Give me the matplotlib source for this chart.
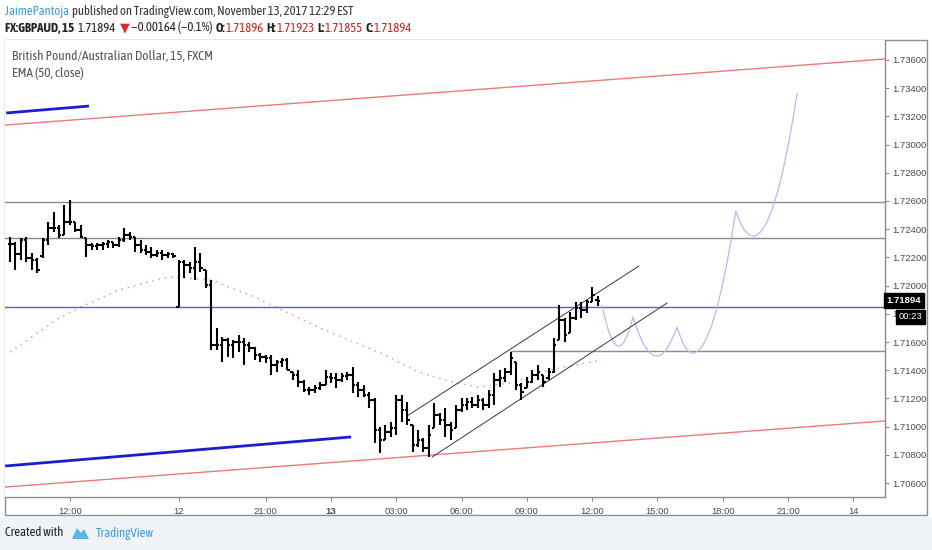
import matplotlib
matplotlib.use("Agg")
import matplotlib.pyplot as plt
import matplotlib.transforms as mtransforms
from matplotlib.path import Path
from matplotlib.patches import PathPatch, Rectangle, Polygon

TEXT_FONT = ['Asap Condensed', 'Lato', 'DejaVu Sans']
AXIS_FONT = ['Liberation Sans', 'DejaVu Sans']
plt.rcParams['font.family'] = TEXT_FONT

W, H = 932, 550

# GBPAUD 15 min bars, bar index 0 = Nov 13 00:00 (first bar = index -59)
first_bar = -59
opens = [
    1.72295, 1.72295, 1.72224, 1.72323, 1.72195, 1.72181, 1.72209, 1.72323, 1.72408, 1.72408,
    1.72359, 1.72451, 1.72451, 1.72394, 1.72337, 1.72288, 1.72280, 1.72288, 1.72295, 1.72309,
    1.72288, 1.72323, 1.72359, 1.72344, 1.72288, 1.72252, 1.72238, 1.72217, 1.72231, 1.72217,
    1.72224, 1.71848, 1.72167, 1.72146, 1.72124, 1.72167, 1.72110, 1.72004, 1.71579, 1.71579,
    1.71614, 1.71579, 1.71600, 1.71600, 1.71579, 1.71557, 1.71508, 1.71493, 1.71486, 1.71437,
    1.71459, 1.71473, 1.71388, 1.71366, 1.71317, 1.71260, 1.71260, 1.71274, 1.71295, 1.71352,
    1.71345, 1.71331, 1.71359, 1.71366, 1.71295, 1.71260, 1.71224, 1.71189, 1.70976, 1.70905,
    1.70962, 1.70990, 1.71189, 1.71118, 1.71011, 1.70869, 1.70905, 1.70848, 1.70990, 1.71082,
    1.71047, 1.71011, 1.70990, 1.71118, 1.71153, 1.71175, 1.71153, 1.71189, 1.71153, 1.71224,
    1.71331, 1.71345, 1.71388, 1.71459, 1.71295, 1.71274, 1.71317, 1.71366, 1.71366, 1.71345,
    1.71388, 1.71614, 1.71756, 1.71664, 1.71770, 1.71841, 1.71827, 1.71884, 1.71896,
]
highs = [
    1.72344, 1.72309, 1.72337, 1.72344, 1.72231, 1.72195, 1.72337, 1.72451, 1.72522, 1.72430,
    1.72572, 1.72607, 1.72451, 1.72430, 1.72337, 1.72302, 1.72302, 1.72309, 1.72323, 1.72309,
    1.72344, 1.72408, 1.72380, 1.72344, 1.72323, 1.72288, 1.72273, 1.72252, 1.72252, 1.72238,
    1.72231, 1.72181, 1.72181, 1.72167, 1.72273, 1.72231, 1.72110, 1.72040, 1.71699, 1.71636,
    1.71628, 1.71614, 1.71650, 1.71628, 1.71600, 1.71564, 1.71522, 1.71508, 1.71508, 1.71473,
    1.71486, 1.71486, 1.71388, 1.71402, 1.71331, 1.71281, 1.71295, 1.71317, 1.71402, 1.71381,
    1.71381, 1.71381, 1.71388, 1.71423, 1.71317, 1.71295, 1.71246, 1.71203, 1.70997, 1.71011,
    1.71033, 1.71224, 1.71224, 1.71175, 1.71011, 1.70976, 1.70919, 1.71011, 1.71168, 1.71097,
    1.71132, 1.71033, 1.71153, 1.71203, 1.71203, 1.71210, 1.71224, 1.71203, 1.71260, 1.71381,
    1.71402, 1.71416, 1.71529, 1.71459, 1.71310, 1.71352, 1.71402, 1.71437, 1.71366, 1.71416,
    1.71628, 1.71863, 1.71770, 1.71813, 1.71884, 1.71884, 1.71898, 1.71990, 1.71923,
]
lows = [
    1.72167, 1.72110, 1.72181, 1.72167, 1.72110, 1.72089, 1.72195, 1.72288, 1.72380, 1.72337,
    1.72359, 1.72430, 1.72380, 1.72337, 1.72202, 1.72252, 1.72252, 1.72252, 1.72266, 1.72266,
    1.72273, 1.72309, 1.72323, 1.72238, 1.72231, 1.72217, 1.72195, 1.72202, 1.72181, 1.72195,
    1.72195, 1.71848, 1.72053, 1.72089, 1.72040, 1.72096, 1.71983, 1.71543, 1.71543, 1.71459,
    1.71493, 1.71486, 1.71529, 1.71437, 1.71529, 1.71473, 1.71459, 1.71452, 1.71366, 1.71388,
    1.71423, 1.71402, 1.71331, 1.71281, 1.71246, 1.71224, 1.71239, 1.71260, 1.71295, 1.71310,
    1.71274, 1.71317, 1.71331, 1.71239, 1.71210, 1.71210, 1.71132, 1.70884, 1.70813, 1.70905,
    1.70927, 1.70941, 1.71033, 1.71011, 1.70820, 1.70855, 1.70820, 1.70785, 1.70990, 1.71011,
    1.70927, 1.70905, 1.70990, 1.71104, 1.71118, 1.71132, 1.71132, 1.71118, 1.71132, 1.71153,
    1.71281, 1.71317, 1.71366, 1.71260, 1.71189, 1.71274, 1.71310, 1.71331, 1.71281, 1.71331,
    1.71381, 1.71614, 1.71600, 1.71664, 1.71756, 1.71770, 1.71806, 1.71884, 1.71855,
]
closes = [
    1.72295, 1.72224, 1.72323, 1.72195, 1.72181, 1.72110, 1.72323, 1.72408, 1.72408, 1.72359,
    1.72451, 1.72451, 1.72394, 1.72344, 1.72288, 1.72280, 1.72288, 1.72295, 1.72309, 1.72288,
    1.72323, 1.72359, 1.72344, 1.72288, 1.72252, 1.72238, 1.72217, 1.72231, 1.72217, 1.72224,
    1.72209, 1.72167, 1.72146, 1.72124, 1.72167, 1.72124, 1.72004, 1.71579, 1.71579, 1.71614,
    1.71579, 1.71600, 1.71600, 1.71579, 1.71557, 1.71508, 1.71493, 1.71486, 1.71437, 1.71459,
    1.71473, 1.71402, 1.71366, 1.71317, 1.71260, 1.71260, 1.71274, 1.71295, 1.71352, 1.71345,
    1.71331, 1.71359, 1.71366, 1.71295, 1.71260, 1.71224, 1.71189, 1.70976, 1.70905, 1.70962,
    1.70990, 1.71189, 1.71118, 1.71047, 1.70869, 1.70905, 1.70848, 1.70941, 1.71082, 1.71047,
    1.71011, 1.70976, 1.71118, 1.71153, 1.71175, 1.71153, 1.71189, 1.71153, 1.71224, 1.71331,
    1.71345, 1.71388, 1.71486, 1.71295, 1.71246, 1.71317, 1.71366, 1.71388, 1.71317, 1.71388,
    1.71579, 1.71756, 1.71650, 1.71770, 1.71841, 1.71827, 1.71884, 1.71934, 1.71894,
]

# EMA(50, close) read at some bars
ema_x = [-59, -50, -46, -39, -30, -22, -14, -9, -2, 10, 16, 23, 27, 33, 40, 49]
ema_y = [1.71529, 1.71770, 1.71848, 1.71969, 1.72061, 1.72040, 1.71919, 1.71827,
         1.71699, 1.71508, 1.71388, 1.71310, 1.71281, 1.71310, 1.71402, 1.71466]

# drawings
red_upper = [(-59.7, 1.73139), (101.8, 1.73607)]
red_lower = [(-59.9, 1.70572), (101.7, 1.71040)]
blue_upper = [(-59.7, 1.73224), (-44.5, 1.73273)]
blue_lower = [(-59.9, 1.70721), (3.7, 1.70927)]
chan_upper = [(14.0, 1.71076), (56.6, 1.72139)]
chan_lower = [(18.6, 1.70785), (61.8, 1.71877)]
gray_levels = [1.72593, 1.72338]
gray_short = (33, 1.71538)
blue_level = 1.71845
# projected path: cusp, bottom, cusp, bottom ...
proj_x = [49.8, 52.9, 55.5, 59.9, 63.6, 66.5, 74.4, 77.6, 85.7]
proj_y = [1.71863, 1.71572, 1.71779, 1.71501, 1.71707, 1.71522, 1.72529, 1.72352, 1.73366]

last_price = 1.71894
countdown = '00:23'

time_ticks = [-48, -28, -12, 0, 12, 24, 36, 48, 60, 72, 84, 96]
time_labels = ['12:00', '12', '21:00', '13', '03:00', '06:00', '09:00', '12:00',
               '15:00', '18:00', '21:00', '14']
price_ticks = [1.706, 1.708, 1.710, 1.712, 1.714, 1.716, 1.718, 1.720, 1.722,
               1.724, 1.726, 1.728, 1.730, 1.732, 1.734, 1.736]
# the 1.71800 label sits under the countdown box, only its first digit shows
price_labels = ['1.70600', '1.70800', '1.71000', '1.71200', '1.71400', '1.71600', '1',
                '1.72000', '1.72200', '1.72400', '1.72600', '1.72800', '1.73000',
                '1.73200', '1.73400', '1.73600']


def fx(px):
    return px / W


def fy(py):
    return 1 - py / H


fig = plt.figure(figsize=(W / 100, H / 100), dpi=100)
fig.patch.set_facecolor('white')
fig.patches.append(Rectangle((0, 0), 1, fy(517), transform=fig.transFigure,
                             facecolor='#eff3f7', edgecolor='none', zorder=-3))
fig.patches.append(Rectangle((fx(5), fy(515)), (927 - 5) / W, (515 - 40) / H,
                             transform=fig.transFigure, facecolor='white',
                             edgecolor='#8c8c8c', lw=1, zorder=-2))

ax = fig.add_axes([fx(5), fy(497), (885 - 5) / W, (497 - 40) / H])
ax.set_zorder(1)
ax.set_xlim(-59.93, 101.84)
ax.set_ylim(1.705013, 1.737414)
ax.set_facecolor('white')

# bars
xs = list(range(first_bar, first_bar + len(opens)))
tick = 0.45
ax.vlines(xs, lows, highs, color='black', lw=1.5, zorder=5)
ax.hlines(opens, [x - tick for x in xs], xs, color='black', lw=1.5, zorder=5)
ax.hlines(closes, xs, [x + tick for x in xs], color='black', lw=1.5, zorder=5)

# EMA
ax.plot(ema_x, ema_y, color='#f09a9a', lw=1.1, ls=(0, (1, 3.2)), zorder=2)

# drawings
ax.axline(*red_upper, color='#f07878', lw=1.0, zorder=3)
ax.axline(*red_lower, color='#f07878', lw=1.0, zorder=3)
for seg in (blue_upper, blue_lower):
    ax.plot([p[0] for p in seg], [p[1] for p in seg], color='#1c1cd0', lw=2.0,
            solid_capstyle='butt', zorder=4)
for seg in (chan_upper, chan_lower):
    ax.plot([p[0] for p in seg], [p[1] for p in seg], color='#3a3a3a', lw=0.7, zorder=4)
for lvl in gray_levels:
    ax.axhline(lvl, color='#8a8a8a', lw=1.0, zorder=3)
ax.plot([gray_short[0], 200], [gray_short[1], gray_short[1]], color='#8a8a8a', lw=1.0, zorder=3)
ax.axhline(blue_level, color='#5a5ad8', lw=1.0, zorder=3)

# projection curve: parabolic arcs with flat bottoms and sharp tops
verts = [(proj_x[0], proj_y[0])]
codes = [Path.MOVETO]
for i in range(1, len(proj_x)):
    x0, y0 = proj_x[i - 1], proj_y[i - 1]
    x1, y1 = proj_x[i], proj_y[i]
    flat_y = y1 if i % 2 == 1 else y0
    verts += [((x0 + x1) / 2, flat_y), (x1, y1)]
    codes += [Path.CURVE3, Path.CURVE3]
ax.add_patch(PathPatch(Path(verts, codes), fill=False, ec='#b8b8ee', lw=0.9, zorder=3))

# axes styling
for side in ('left', 'top'):
    ax.spines[side].set_visible(False)
for side in ('right', 'bottom'):
    ax.spines[side].set_color('#8c8c8c')
    ax.spines[side].set_linewidth(1.0)
ax.yaxis.tick_right()
ax.set_yticks(price_ticks)
ax.set_yticklabels(price_labels)
ax.set_xticks(time_ticks)
ax.set_xticklabels(time_labels)
ax.tick_params(axis='both', length=3, width=0.8, color='#8c8c8c',
               labelcolor='#4a4a4a', labelsize=6.8, pad=2.5)
ax.tick_params(axis='x', pad=4)
for lbl in ax.get_xticklabels() + ax.get_yticklabels():
    lbl.set_fontfamily(AXIS_FONT)
ax.get_xticklabels()[3].set_fontweight('bold')

# last price + countdown boxes
trans = mtransforms.blended_transform_factory(ax.transAxes, ax.transData)
ax.text(1.002, last_price, f'{last_price:.5f}', transform=trans, ha='left', va='center',
        color='white', fontsize=6.8, fontweight='bold', family=AXIS_FONT, zorder=10,
        clip_on=False, bbox=dict(boxstyle='square,pad=0.3', fc='black', ec='black'))
ax.text(1.0155, 1.71778, countdown, transform=trans, ha='left', va='center',
        color='white', fontsize=6.8, family=AXIS_FONT, zorder=10, clip_on=False,
        bbox=dict(boxstyle='square,pad=0.25', fc='black', ec='black'))

renderer = fig.canvas.get_renderer()


def text_run(x_px, y_px, pieces, size, width=None):
    # pieces of differently coloured text on one line; optionally fit to a width in px
    texts = []
    x = x_px
    for s, color, weight, gap in pieces:
        t = fig.text(fx(x), fy(y_px), s, color=color, fontsize=size,
                     fontweight=weight, va='center', ha='left')
        texts.append(t)
        x = t.get_window_extent(renderer=renderer).x1 + gap
    if width is not None:
        for t in texts:
            t.remove()
        return text_run(x_px, y_px, pieces, size * width / (x - x_px))
    return size


# titles in the pane
pane = '#555555'
s = text_run(12, 56, [('British Pound/Australian Dollar, 15, FXCM', pane, 'normal', 0)], 8, 200)
text_run(12, 73, [('EMA (50, close)', pane, 'normal', 0)], s)

# header
text_run(5, 12, [('JaimePantoja', '#3a9fd8', 'normal', 3),
                 ('published on TradingView.com, November 13, 2017 12:29 EST', '#333333', 'normal', 0)],
         8, 351)
red = '#c62828'
dark = '#222222'
text_run(5, 28, [('FX:GBPAUD, 15', dark, 'bold', 4),
                 ('1.71894', dark, 'normal', 3),
                 ('\u25bc', '#d32f2f', 'normal', 2),
                 ('\u22120.00164 (\u22120.1%)', dark, 'normal', 3),
                 ('O:', dark, 'bold', 0), ('1.71896', red, 'normal', 3),
                 ('H:', dark, 'bold', 0), ('1.71923', red, 'normal', 3),
                 ('L:', dark, 'bold', 0), ('1.71855', red, 'normal', 3),
                 ('C:', dark, 'bold', 0), ('1.71894', red, 'normal', 0)],
         8, 414)

# footer
s = text_run(5, 533, [('Created with', '#222222', 'normal', 0)], 8, 59)
logo = [(72, 539), (77, 528), (81, 533), (84, 529), (89, 539)]
fig.patches.append(Polygon([(fx(a), fy(b)) for a, b in logo], closed=True,
                           transform=fig.transFigure, fc='#5ab4e6', ec='none'))
text_run(96, 533, [('TradingView', '#3a9fd8', 'normal', 0)], s)

fig.savefig('out.png', dpi=100, facecolor=fig.get_facecolor())
